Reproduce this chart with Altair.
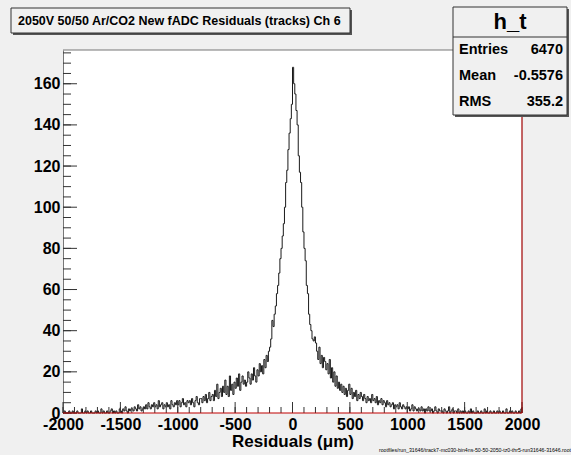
import altair as alt
import pandas as pd

# ---- histogram contents: 10 um bins from -2000 to 2000 (rows of 10 bins = 100 um) ----
counts_rows = [
    [0,1,0,0,0,1,0,0,1,0],            # -2000..-1900
    [0,0,1,0,0,0,2,0,0,1],
    [0,1,0,0,1,0,0,0,1,0],
    [1,0,0,2,0,1,0,0,1,0],
    [0,1,2,0,1,0,1,0,0,2],
    [1,0,2,1,3,1,0,2,1,2],            # -1500
    [2,1,3,2,1,4,2,3,1,2],
    [3,2,4,2,5,3,2,4,3,5],
    [3,4,2,6,3,4,5,2,4,3],
    [5,3,4,2,6,4,3,5,4,6],
    [4,6,3,5,7,4,5,3,6,5],            # -1000
    [6,4,7,5,3,6,8,5,4,7],
    [7,5,8,6,9,5,7,10,6,8],
    [9,6,11,8,14,7,10,12,8,13],
    [10,16,9,13,8,18,11,14,9,15],
    [12,17,13,19,11,15,18,14,16,13],  # -500
    [15,20,17,14,19,16,22,18,15,21],
    [18,24,20,23,19,26,22,28,25,30],
    [32,36,45,42,48,52,58,62,68,75],
    [80,86,92,100,112,118,128,136,143,150],
    [168,160,155,147,140,125,117,112,100,88],  # 0
    [80,74,62,58,48,43,40,36,35,37],
    [34,30,26,32,24,28,22,27,25,21],
    [24,19,26,17,22,15,20,13,18,12],
    [15,11,14,10,13,9,12,8,11,14],
    [9,12,7,10,8,11,6,9,7,10],        # 500
    [8,6,9,7,5,8,6,7,5,9],
    [6,7,5,8,4,6,5,7,4,6],
    [5,3,6,4,5,3,4,5,2,4],
    [3,4,2,5,3,2,4,3,2,3],
    [2,3,1,2,4,1,3,2,1,2],            # 1000
    [2,1,3,1,2,0,2,1,3,1],
    [1,2,0,1,3,1,0,2,1,1],
    [1,0,2,1,0,1,3,0,1,2],
    [0,1,1,0,2,0,1,0,1,0],
    [1,0,0,1,0,2,0,1,0,0],            # 1500
    [0,1,0,0,1,0,0,2,0,1],
    [0,0,1,0,0,1,0,0,1,0],
    [1,0,0,1,0,0,2,0,0,1],
    [0,1,0,0,1,0,0,1,0,2],
]
x_min, x_max, bin_w = -2000, 2000, 10
y_max = 176.4

x_major = [-2000, -1500, -1000, -500, 0, 500, 1000, 1500, 2000]
x_minor = list(range(-2000, 2001, 100))
y_major = [0, 20, 40, 60, 80, 100, 120, 140, 160]
y_minor = list(range(0, 176, 5))

title_text = "2050V 50/50 Ar/CO2 New fADC Residuals (tracks) Ch 6"
stats_name = "h_t"
stats_labels = ["Entries", "Mean", "RMS"]
stats_values = ["6470", "-0.5576", "355.2"]
x_title = "Residuals (\u03bcm)"
footnote = "rootfiles/run_31646/track7-mc030-bin4ns-50-50-2050-tz0-thr5-run31646-31646.root"

counts = [c for row in counts_rows for c in row]
edges = [x_min + bin_w * i for i in range(len(counts))] + [x_max]
hist = pd.DataFrame({"x": edges, "n": counts + [counts[-1]]})

W, H = 459, 363
FONT = "Liberation Sans"
xs = alt.Scale(domain=[x_min, x_max], nice=False, zero=False)
ys = alt.Scale(domain=[0, y_max], nice=False)

hyphen_label = "datum.value < 0 ? '-' + abs(datum.value) : '' + datum.value"

base_x = alt.X("x:Q", scale=xs,
               axis=alt.Axis(values=x_major, labelExpr=hyphen_label, ticks=False, domain=False,
                             grid=False, labelFont=FONT, labelFontSize=16, labelFontWeight="bold",
                             labelColor="black", labelPadding=3, labelFlush=False,
                             title=x_title, titleFont=FONT, titleFontSize=17,
                             titleFontWeight="bold", titleColor="black", titlePadding=1))
base_y = alt.Y("n:Q", scale=ys,
               axis=alt.Axis(values=y_major, labelExpr=hyphen_label, ticks=False, domain=True,
                             domainColor="#777", domainWidth=1, grid=False, labelFont=FONT,
                             labelFontSize=16, labelFontWeight="bold", labelColor="black",
                             labelPadding=3, labelFlush=False, title=None))

line = alt.Chart(hist).mark_line(interpolate="step-after", color="#1a1a1a",
                                 strokeWidth=1).encode(x=base_x, y=base_y)

one = pd.DataFrame({"a": [0]})

# frame lines
top_frame = alt.Chart(one).mark_rule(color="#777", strokeWidth=1).encode(
    x=alt.value(0), x2=alt.value(W), y=alt.value(0))
red_bottom = alt.Chart(one).mark_rule(color="#c00000", strokeWidth=1.2).encode(
    x=alt.value(0), x2=alt.value(W), y=alt.value(H))
red_right = alt.Chart(one).mark_rule(color="#a00000", strokeWidth=1.2).encode(
    x=alt.value(W), y=alt.value(0), y2=alt.value(H))

# ticks (inward)
def xticks(vals, length):
    return alt.Chart(pd.DataFrame({"x": vals})).mark_rule(color="#333", strokeWidth=1).encode(
        x=alt.X("x:Q", scale=xs), y=alt.value(H), y2=alt.value(H - length))

def yticks(vals, length):
    return alt.Chart(pd.DataFrame({"n": vals})).mark_rule(color="#333", strokeWidth=1).encode(
        y=alt.Y("n:Q", scale=ys), x=alt.value(0), x2=alt.value(length))

def rect(x1, y1, x2, y2, fill, stroke=None):
    kw = dict(fill=fill)
    if stroke:
        kw.update(stroke=stroke, strokeWidth=1)
    return alt.Chart(one).mark_rect(**kw).encode(
        x=alt.value(x1), x2=alt.value(x2), y=alt.value(y1), y2=alt.value(y2))

def text(t, x, y, size, align="left", weight="bold"):
    return alt.Chart(pd.DataFrame({"t": [t]})).mark_text(
        font=FONT, fontSize=size, fontWeight=weight, align=align, baseline="middle",
        color="black").encode(x=alt.value(x), y=alt.value(y), text="t:N")

BG = "#f0f0f0"
# title box (plot coords)
tb = [rect(-50, -40, 289, -15, "#555"), rect(-52, -42, 287, -17, BG, "#333"),
      text(title_text, -45, -29.5, 12.5)]
# stats box
sb = [rect(392, -41, 506, 67, "#555"), rect(390, -43, 504, 65, BG, "#333"),
      alt.Chart(one).mark_rule(color="#333").encode(x=alt.value(390), x2=alt.value(504), y=alt.value(-13)),
      text(stats_name, 447, -28, 22, align="center")]
for i, (lab, val) in enumerate(zip(stats_labels, stats_values)):
    yy = 0 + i * 26
    sb.append(text(lab, 396, yy, 14.5))
    sb.append(text(val, 500, yy, 14.5, align="right"))

foot = text(footnote, 508, 400, 5.2, align="right", weight="normal")

chart = alt.layer(
    line, xticks(x_minor, 6), xticks(x_major, 11), yticks(y_minor, 8), yticks(y_major, 14),
    top_frame, red_bottom, red_right, *tb, *sb, foot
).properties(
    width=W, height=H, background=BG,
    padding={"left": 63, "top": 50, "right": 49, "bottom": 42},
    autosize=alt.AutoSizeParams(type="none"),
).configure_view(fill="white", stroke=None)

chart.save("out.html", embed_options={"renderer": "svg", "actions": False})
